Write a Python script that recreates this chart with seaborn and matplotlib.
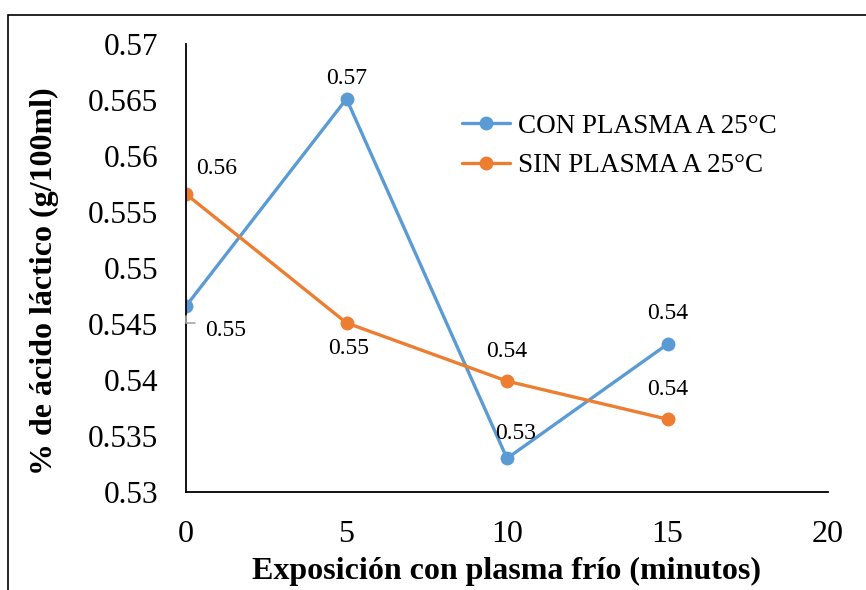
import matplotlib
matplotlib.use("Agg")
import matplotlib.pyplot as plt
import matplotlib.patches as mpatches
import seaborn as sns
import pandas as pd

minutes = [0, 5, 10, 15]
con_plasma = [0.5466, 0.5651, 0.5330, 0.5432]
sin_plasma = [0.5566, 0.5451, 0.5399, 0.5365]
series_names = ["CON PLASMA A 25°C", "SIN PLASMA A 25°C"]
colors = ["#5B9BD5", "#ED7D31"]
y_ticks = [0.53, 0.535, 0.54, 0.545, 0.55, 0.555, 0.56, 0.565, 0.57]
y_tick_labels = ["0.53", "0.535", "0.54", "0.545", "0.55", "0.555", "0.56", "0.565", "0.57"]
x_ticks = [0, 5, 10, 15, 20]
x_label = "Exposición con plasma frío (minutos)"
y_label = "% de ácido láctico (g/100ml)"

df = pd.DataFrame({
    "min": minutes * 2,
    "val": con_plasma + sin_plasma,
    "serie": [series_names[0]] * 4 + [series_names[1]] * 4,
})

sns.set_style("white")
plt.rcParams["font.family"] = ["Liberation Serif", "DejaVu Serif"]
plt.rcParams["text.color"] = "black"
plt.rcParams["axes.labelcolor"] = "black"
plt.rcParams["xtick.color"] = "black"
plt.rcParams["ytick.color"] = "black"

fig = plt.figure(figsize=(8.66, 5.9), dpi=100)
ax = fig.add_axes([186 / 866, 1 - 492 / 590, (828 - 186) / 866, (492 - 44) / 590])

sns.lineplot(data=df, x="min", y="val", hue="serie", palette=colors,
             marker="o", markersize=10, markeredgewidth=0, linewidth=2.4, ax=ax)

ax.set_xlim(0, 20)
ax.set_ylim(0.53, 0.57)
ax.set_xticks(x_ticks)
ax.set_xticklabels([str(t) for t in x_ticks])
ax.set_yticks(y_ticks)
ax.set_yticklabels(y_tick_labels)
ax.tick_params(axis="y", length=0, pad=20, labelsize=22.5)
ax.tick_params(axis="x", length=0, pad=20, labelsize=23)
for s in ["top", "right"]:
    ax.spines[s].set_visible(False)
for s in ["left", "bottom"]:
    ax.spines[s].set_color("black")
    ax.spines[s].set_linewidth(1.3)

ax.set_xlabel(x_label, fontsize=23, fontweight="bold", labelpad=6)
ax.set_ylabel(y_label, fontsize=23, fontweight="bold")
ax.yaxis.set_label_coords(-0.198, 0.471)

leg = ax.legend(frameon=False, fontsize=19.5, loc="upper left",
                bbox_to_anchor=(448 / 866, 1 - 100 / 590), bbox_transform=fig.transFigure,
                borderpad=0, handlelength=1.8, handletextpad=0.3, labelspacing=0.55)
for h in leg.get_lines():
    h.set_linewidth(2.4)
    h.set_markersize(10)

# data labels (offsets in points)
px = 0.72
blue_off = [(19 * px, -24 * px), (0, 20 * px), (9 * px, 25 * px), (0, 31 * px)]
orange_off = [(31 * px, 26 * px), (2 * px, -26 * px), (0, 30 * px), (0, 30 * px)]
for i, (x, v) in enumerate(zip(minutes, con_plasma)):
    if i == 0:
        ax.annotate(f"{v:.2f}", xy=(x, v), xytext=blue_off[i], textcoords="offset points",
                    ha="left", va="center", fontsize=17,
                    arrowprops=dict(arrowstyle="-", color="#A6A6A6", lw=1.2,
                                    connectionstyle="angle,angleA=0,angleB=90,rad=0",
                                    relpos=(0, 0.85), shrinkA=5, shrinkB=7),
                    annotation_clip=False)
    else:
        ax.annotate(f"{v:.2f}", xy=(x, v), xytext=blue_off[i], textcoords="offset points",
                    ha="center", va="center", fontsize=17)
for i, (x, v) in enumerate(zip(minutes, sin_plasma)):
    ax.annotate(f"{v:.2f}", xy=(x, v), xytext=orange_off[i], textcoords="offset points",
                ha="center", va="center", fontsize=17)

# figure border
rect = mpatches.Rectangle((8 / 866, -0.05), 1.0, 1 - 15 / 590 + 0.05, transform=fig.transFigure,
                          fill=False, edgecolor="black", linewidth=1.2, clip_on=False)
fig.patches.append(rect)

fig.savefig("out.png", dpi=100)
